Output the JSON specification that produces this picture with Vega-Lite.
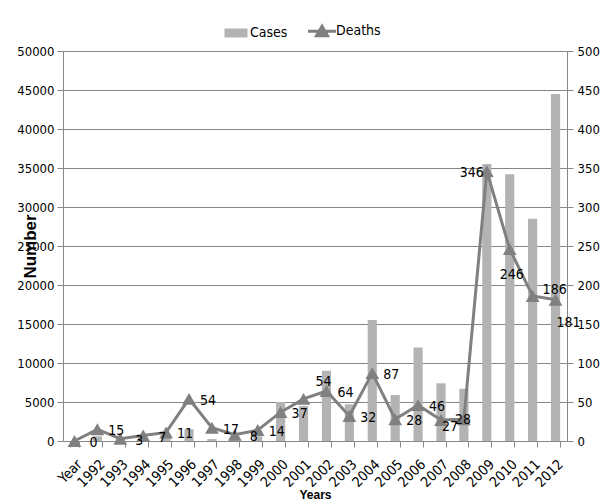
{
  "$schema": "https://vega.github.io/schema/vega-lite/v6.json",
  "width": 504,
  "height": 390,
  "autosize": {"type": "none"},
  "padding": {"left": 63, "top": 51, "right": 44, "bottom": 63},
  "background": "white",
  "config": {
    "view": {"stroke": null},
    "font": "DejaVu Sans Condensed, Liberation Sans, sans-serif",
    "axis": {"labelFont": "DejaVu Sans Condensed, Liberation Sans, sans-serif", "labelColor": "#000", "domainColor": "#888", "tickColor": "#888", "titleColor": "#000"},
    "legend": {"labelFont": "DejaVu Sans Condensed, Liberation Sans, sans-serif"},
    "text": {"font": "DejaVu Sans Condensed, Liberation Sans, sans-serif"}
  },
  "data": {
    "values": [
      {"year": "Year", "cases": 0, "deaths": 0},
      {"year": "1992", "cases": 600, "deaths": 15},
      {"year": "1993", "cases": 300, "deaths": 3},
      {"year": "1994", "cases": 400, "deaths": 7},
      {"year": "1995", "cases": 500, "deaths": 11},
      {"year": "1996", "cases": 1500, "deaths": 54},
      {"year": "1997", "cases": 250, "deaths": 17},
      {"year": "1998", "cases": 400, "deaths": 8},
      {"year": "1999", "cases": 600, "deaths": 14},
      {"year": "2000", "cases": 5000, "deaths": 37},
      {"year": "2001", "cases": 4500, "deaths": 54},
      {"year": "2002", "cases": 9000, "deaths": 64},
      {"year": "2003", "cases": 4700, "deaths": 32},
      {"year": "2004", "cases": 15500, "deaths": 87},
      {"year": "2005", "cases": 5900, "deaths": 28},
      {"year": "2006", "cases": 12000, "deaths": 46},
      {"year": "2007", "cases": 7400, "deaths": 27},
      {"year": "2008", "cases": 6700, "deaths": 28},
      {"year": "2009", "cases": 35500, "deaths": 346},
      {"year": "2010", "cases": 34200, "deaths": 246},
      {"year": "2011", "cases": 28500, "deaths": 186},
      {"year": "2012", "cases": 44500, "deaths": 181}
    ]
  },
  "encoding": {
    "x": {
      "field": "year", "type": "nominal", "sort": null,
      "scale": {"paddingInner": 0.6, "paddingOuter": 0.3},
      "axis": {
        "title": "Years", "titleFont": "Liberation Sans", "titleFontWeight": "bold", "titleFontSize": 12,
        "titleY": 48, "titleBaseline": "top", "titleAnchor": "middle",
        "labelAngle": -45, "labelFontSize": 14, "labelPadding": 10,
        "tickBand": "extent", "tickSize": 6, "grid": false
      }
    }
  },
  "layer": [
    {
      "mark": {"type": "bar"},
      "encoding": {
        "y": {
          "field": "cases", "type": "quantitative",
          "scale": {"domain": [0, 50000], "nice": false},
          "axis": {
            "title": "Number", "titleFont": "Liberation Sans", "titleFontWeight": "bold", "titleFontSize": 17,
            "titleX": -33, "titleY": 195, "titleAngle": -90, "titleAlign": "center", "titleBaseline": "middle",
            "values": [0, 5000, 10000, 15000, 20000, 25000, 30000, 35000, 40000, 45000, 50000],
            "format": "d", "grid": true, "gridColor": "#868686", "gridOpacity": 1,
            "labelFontSize": 13, "tickSize": 6, "labelPadding": 3
          }
        },
        "color": {
          "datum": "Cases",
          "scale": {"domain": ["Cases", "Deaths"], "range": ["#b3b3b3", "#808080"]},
          "legend": {
            "orient": "none", "legendX": 166, "legendY": -27, "direction": "horizontal",
            "title": null, "padding": 0, "labelFontSize": 14, "labelColor": "#000",
            "symbolSize": 400, "labelOffset": 7, "columnPadding": 14,
            "encode": {
              "symbols": {
                "update": {
                  "shape": {"signal": "datum.value === 'Cases' ? 'M-1.15,-0.45H1.15V0.45H-1.15Z' : 'M-1.4,0H1.4M-0.55,0.45L0,-0.5L0.55,0.45Z'"},
                  "fill": {"signal": "datum.value === 'Cases' ? '#b3b3b3' : '#808080'"},
                  "stroke": {"signal": "datum.value === 'Cases' ? '#b3b3b3' : '#808080'"},
                  "strokeWidth": {"signal": "datum.value === 'Cases' ? 0 : 3"},
                  "opacity": {"value": 1}
                }
              }
            }
          }
        }
      }
    },
    {
      "encoding": {
        "y": {
          "field": "deaths", "type": "quantitative",
          "scale": {"domain": [0, 500], "nice": false},
          "axis": {
            "orient": "right", "title": "Deaths", "titleFont": "Liberation Sans", "titleFontWeight": "bold", "titleFontSize": 17,
            "titleX": 52, "titleY": 195, "titleAngle": -90, "titleAlign": "center", "titleBaseline": "middle",
            "values": [0, 50, 100, 150, 200, 250, 300, 350, 400, 450, 500],
            "grid": false, "labelFontSize": 13, "tickSize": 6, "labelPadding": 4
          }
        }
      },
      "layer": [
        {
          "mark": {"type": "line", "strokeWidth": 3, "point": {"shape": "triangle-up", "size": 190, "filled": true, "opacity": 1}},
          "encoding": {"color": {"datum": "Deaths"}}
        },
        {
          "transform": [{"filter": {"not": {"field": "year", "oneOf": ["2001", "2007", "2008", "2009", "2010", "2011", "2012"]}}}],
          "mark": {"type": "text", "fontSize": 14, "color": "#000", "dx": 19, "dy": 2},
          "encoding": {"text": {"field": "deaths"}}
        },
        {
          "transform": [{"filter": {"field": "year", "equal": "2001"}}],
          "mark": {"type": "text", "fontSize": 14, "color": "#000", "dx": 20, "dy": -17},
          "encoding": {"text": {"field": "deaths"}}
        },
        {
          "transform": [{"filter": {"field": "year", "equal": "2007"}}],
          "mark": {"type": "text", "fontSize": 14, "color": "#000", "dx": 9, "dy": 7},
          "encoding": {"text": {"field": "deaths"}}
        },
        {
          "transform": [{"filter": {"field": "year", "equal": "2008"}}],
          "mark": {"type": "text", "fontSize": 14, "color": "#000", "dx": -1, "dy": 1},
          "encoding": {"text": {"field": "deaths"}}
        },
        {
          "transform": [{"filter": {"field": "year", "equal": "2009"}}],
          "mark": {"type": "text", "fontSize": 14, "color": "#000", "dx": -15, "dy": 2},
          "encoding": {"text": {"field": "deaths"}}
        },
        {
          "transform": [{"filter": {"field": "year", "equal": "2010"}}],
          "mark": {"type": "text", "fontSize": 14, "color": "#000", "dx": 2, "dy": 26},
          "encoding": {"text": {"field": "deaths"}}
        },
        {
          "transform": [{"filter": {"field": "year", "equal": "2011"}}],
          "mark": {"type": "text", "fontSize": 14, "color": "#000", "dx": 22, "dy": -6},
          "encoding": {"text": {"field": "deaths"}}
        },
        {
          "transform": [{"filter": {"field": "year", "equal": "2012"}}],
          "mark": {"type": "text", "fontSize": 14, "color": "#000", "dx": 13, "dy": 23},
          "encoding": {"text": {"field": "deaths"}}
        }
      ]
    }
  ],
  "resolve": {"scale": {"y": "independent"}}
}
